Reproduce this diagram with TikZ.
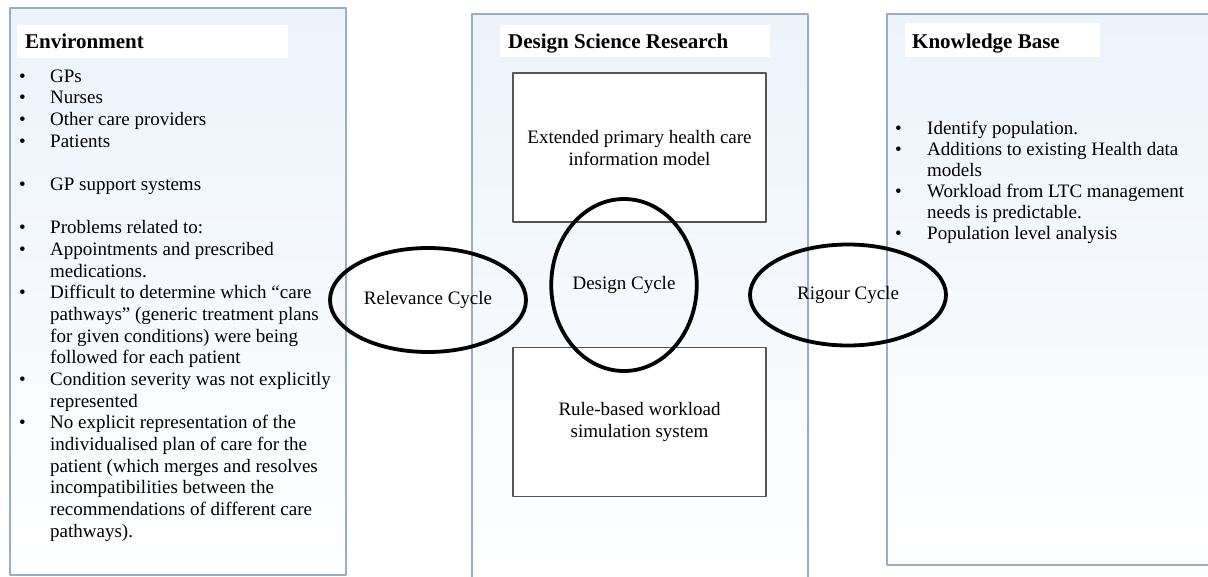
\documentclass[tikz,border=0pt]{standalone}
\usepackage{fontspec}
\setmainfont{Liberation Serif}
\usetikzlibrary{shapes.geometric}
\definecolor{panelline}{RGB}{152,174,196}
\definecolor{paneltop}{RGB}{236,243,251}
\definecolor{boxline}{RGB}{85,85,85}
\tikzset{
  panel/.style={draw=panelline,line width=1.5pt,top color=paneltop,bottom color=white},
  headbox/.style={fill=white},
  head/.style={font=\fontsize{21}{24}\selectfont\bfseries,inner sep=0pt,anchor=base west},
  artbox/.style={draw=boxline,line width=1.3pt,fill=white,minimum width=253pt,minimum height=149pt,align=center,font=\fontsize{19}{22}\selectfont},
  cycle/.style={ellipse,draw,line width=3.8pt,inner sep=0pt,font=\fontsize{19}{22}\selectfont},
  bullets/.style={inner sep=0pt,anchor=base west,font=\fontsize{19}{21.67}\selectfont}
}
\newcommand{\itm}{\textbullet}
\begin{document}
\begin{tikzpicture}[x=1pt,y=-1pt,line join=round]
\useasboundingbox (0,0) rectangle (1208,576);
\clip (0,0) rectangle (1208,576);
\fill[white] (0,0) rectangle (1208,576);
\draw[panel] (10,8) rectangle (346,575);
\draw[panel] (472,14) rectangle (808,600);
\draw[panel] (887,14) rectangle (1230,565);
\fill[headbox] (17,25) rectangle (288,58);
\fill[headbox] (500,25) rectangle (770,57);
\fill[headbox] (905,23) rectangle (1100,57);
\node[head] (envhead) at (25,48) {Environment};
\node[head] (dsrhead) at (508,48) {Design Science Research};
\node[head] (kbhead) at (912,48) {Knowledge Base};
\node[bullets] (envlist) at (19,82) {\begin{tabular}[t]{@{}p{31pt}@{}l@{}}
\itm & GPs\\
\itm & Nurses\\
\itm & Other care providers\\
\itm & Patients\\
 & \\
\itm & GP support systems\\
 & \\
\itm & Problems related to:\\
\itm & Appointments and prescribed\\
 & medications.\\
\itm & Difficult to determine which “care\\
 & pathways” (generic treatment plans\\
 & for given conditions) were being\\
 & followed for each patient\\
\itm & Condition severity was not explicitly\\
 & represented\\
\itm & No explicit representation of the\\
 & individualised plan of care for the\\
 & patient (which merges and resolves\\
 & incompatibilities between the\\
 & recommendations of different care\\
 & pathways).
\end{tabular}};
\node[bullets,font=\fontsize{19}{21}\selectfont] (kblist) at (895,134) {\begin{tabular}[t]{@{}p{32pt}@{}l@{}}
\itm & Identify population.\\
\itm & Additions to existing Health data\\
 & models\\
\itm & Workload from LTC management\\
 & needs is predictable.\\
\itm & Population level analysis
\end{tabular}};
\node[artbox] (model) at (639.5,147.5) {Extended primary health care\\information model};
\node[artbox] (sim) at (639.5,422) {Rule-based workload\\simulation system};
\node[cycle,minimum width=134pt,minimum height=172pt] (design) at (624,285) {Design Cycle};
\node[cycle,minimum width=196pt,minimum height=104pt] (relevance) at (428,300) {Relevance Cycle};
\node[cycle,minimum width=196pt,minimum height=101pt] (rigour) at (848,295) {Rigour Cycle};
\end{tikzpicture}
\end{document}
